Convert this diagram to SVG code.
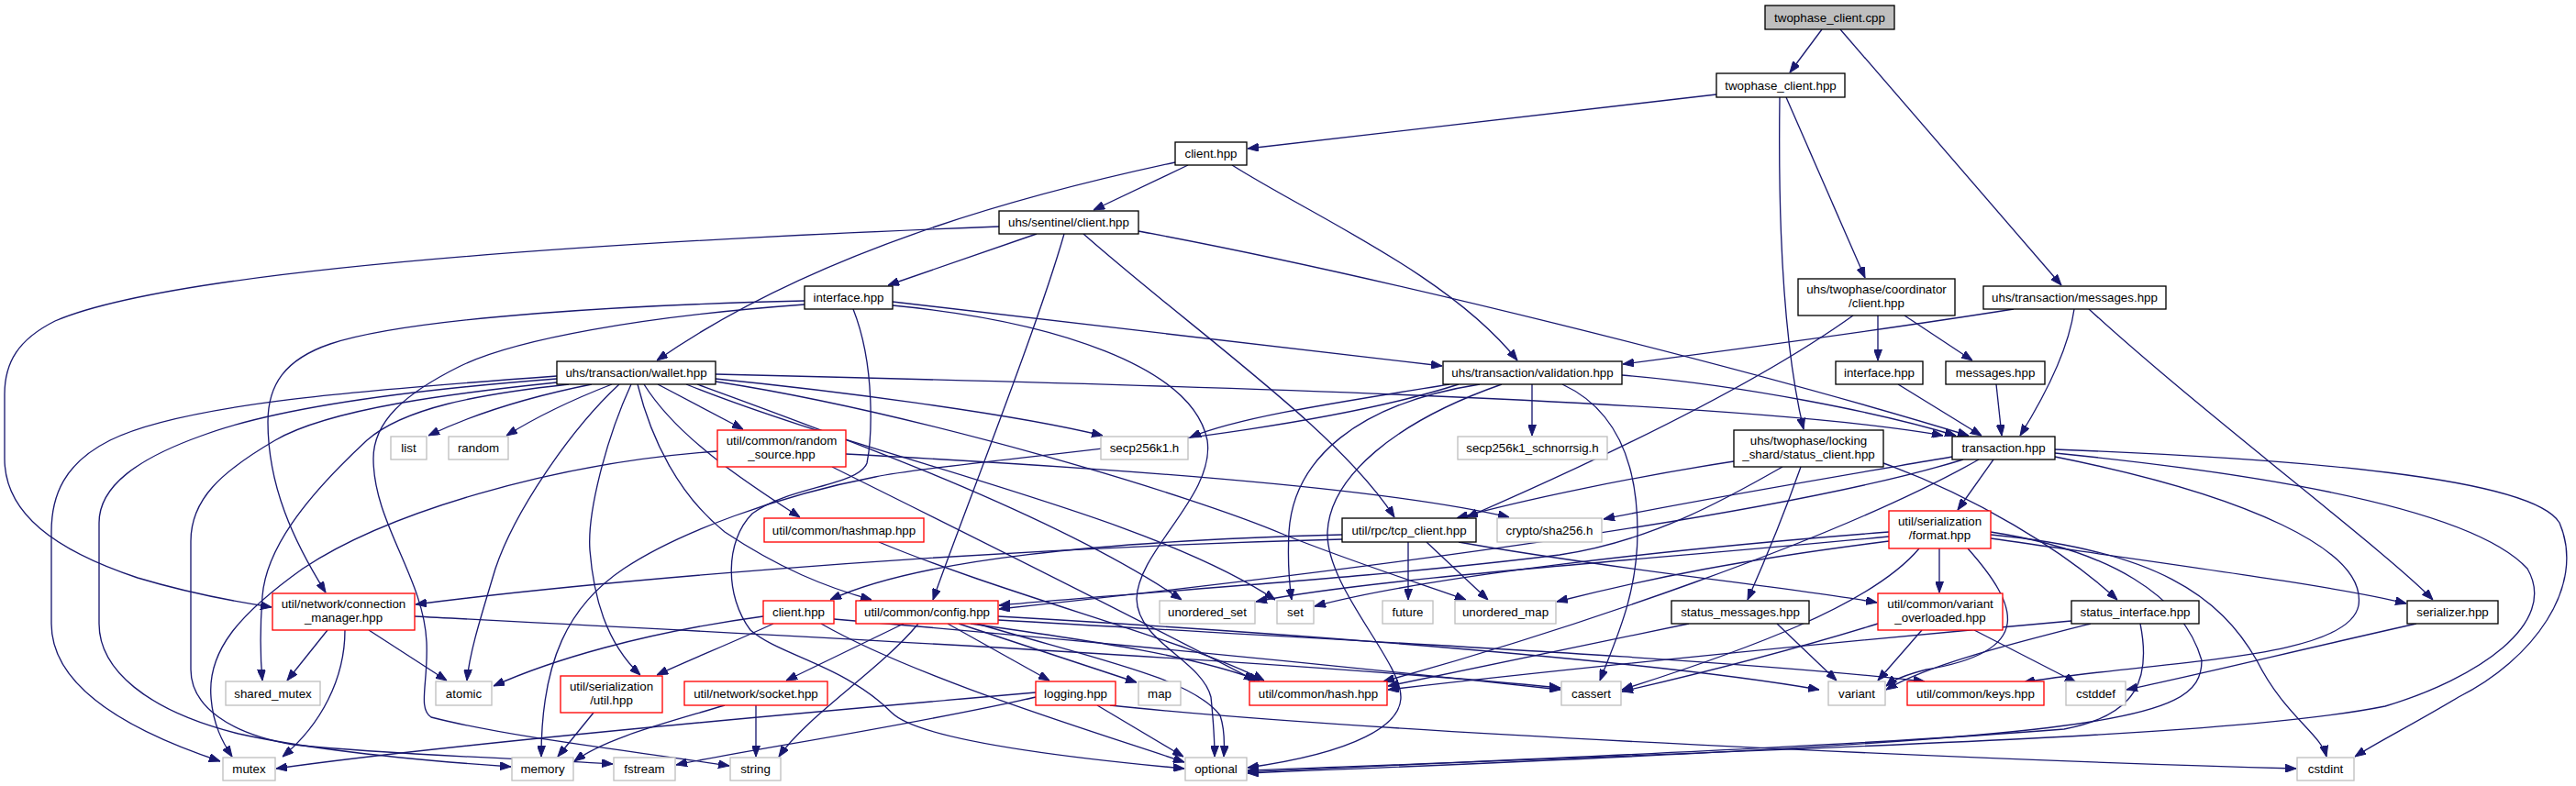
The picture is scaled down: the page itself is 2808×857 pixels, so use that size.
<svg xmlns="http://www.w3.org/2000/svg" width="2808" height="857" viewBox="0 0 2808 857">
<style>
.n rect{fill:#fff;stroke-width:1.33}
.b rect{stroke:#000}
.r rect{stroke:#ff0000}
.g rect{stroke:#bfbfbf}
.root rect{fill:#bfbfbf;stroke:#000}
text{font-family:"Liberation Sans",Arial,sans-serif;font-size:13.33px;text-anchor:middle;fill:#000}
#edges path{fill:none;stroke:#191970;stroke-width:1.33;marker-end:url(#ah)}
</style>
<defs>
<marker id="ah" viewBox="0 0 12 9" refX="12" refY="4.5" markerWidth="12" markerHeight="9" markerUnits="userSpaceOnUse" orient="auto"><path d="M0,0 L12,4.5 L0,9 z" fill="#191970" stroke="#191970" stroke-width="1"/></marker>
</defs>
<rect width="2808" height="857" fill="#fff"/>
<g id="edges">
<path d="M1986,32 L1951,79"/>
<path d="M2006,32 L2247,311"/>
<path d="M1871,103 L1360,162"/>
<path d="M1947,106 L2033,303"/>
<path d="M1940,106 C1938,250 1945,380 1966,468"/>
<path d="M1295,180 L1192,229"/>
<path d="M1281,177 C1150,205 900,265 716,393"/>
<path d="M1343,180 C1430,235 1580,300 1654,393"/>
<path d="M1130,255 L968,311"/>
<path d="M1089,247 C700,262 200,290 60,350 C20,370 5,395 5,430 L5,500 C5,560 60,600 150,630 C200,645 250,655 296,662"/>
<path d="M1160,255 C1130,360 1050,560 1017,654"/>
<path d="M1181,255 C1300,360 1460,470 1520,564"/>
<path d="M1241,252 C1500,300 1900,400 2146,475"/>
<path d="M877,328 C700,332 450,345 360,375 C310,392 292,420 292,460 C292,530 320,590 355,646"/>
<path d="M973,329 L1572,399"/>
<path d="M877,332 C700,345 560,370 500,400 C440,430 407,460 407,500 C407,570 462,630 465,700 C467,745 455,772 470,782 C560,805 700,820 795,835"/>
<path d="M930,337 C955,400 950,480 945,505 C935,530 860,530 820,560 C790,590 790,650 818,687 C850,715 920,725 972,777 C1000,805 1150,825 1291,838"/>
<path d="M973,333 C1150,350 1300,400 1316,480 C1325,540 1240,600 1239,653 C1240,700 1310,720 1320,760 C1323,790 1324,810 1324,825"/>
<path d="M607,410 C400,425 200,440 120,480 C70,505 56,540 56,580 L56,680 C56,740 120,790 240,830"/>
<path d="M607,413 C450,425 300,445 220,475 C150,500 108,530 108,570 L108,680 C108,730 160,775 260,800 C350,820 470,830 557,836"/>
<path d="M607,417 C500,428 360,445 300,480 C240,515 208,545 208,590 L208,730 C208,770 250,800 320,812 C450,825 600,828 668,833"/>
<path d="M620,419 C520,430 440,445 400,480 C330,545 290,600 286,650 C283,690 284,720 286,742"/>
<path d="M645,419 Q540,440 467,475"/>
<path d="M667,419 Q600,445 552,475"/>
<path d="M675,419 C620,470 560,560 540,620 C525,670 512,710 509,742"/>
<path d="M688,419 C660,480 640,560 643,600 C647,650 660,700 698,736"/>
<path d="M695,419 C710,480 740,540 790,580 C850,620 900,640 950,654"/>
<path d="M702,419 C740,480 820,530 872,564"/>
<path d="M717,419 L810,468"/>
<path d="M780,413 C900,425 1100,450 1202,475"/>
<path d="M780,408 C1200,418 1900,435 2118,475"/>
<path d="M760,419 C900,470 1150,560 1288,654"/>
<path d="M748,419 C950,500 1250,560 1390,654"/>
<path d="M780,416 C1000,450 1300,540 1400,583 C1480,615 1560,640 1598,654"/>
<path d="M782,492 C600,505 420,560 330,620 C260,670 226,710 230,760 C232,790 243,810 253,825"/>
<path d="M922,495 C1200,510 1500,530 1645,564"/>
<path d="M907,509 C1050,580 1250,680 1368,742"/>
<path d="M958,591 C1100,650 1300,700 1378,742"/>
<path d="M1463,583 C1200,590 1000,610 905,654"/>
<path d="M1463,588 C1000,600 600,640 453,659"/>
<path d="M1535,591 L1535,654"/>
<path d="M1555,591 L1622,654"/>
<path d="M1590,591 C1750,620 1950,640 2046,657"/>
<path d="M832,672 C700,690 600,720 538,748"/>
<path d="M843,680 C800,700 750,720 716,736"/>
<path d="M895,680 C1000,740 1200,800 1291,831"/>
<path d="M909,675 C1200,700 1500,730 1701,752"/>
<path d="M985,680 L857,742"/>
<path d="M1001,680 C960,730 880,780 849,825"/>
<path d="M1033,680 L1144,742"/>
<path d="M1045,680 L1239,744"/>
<path d="M1058,680 C1200,700 1300,715 1373,742"/>
<path d="M1065,680 C1200,720 1300,740 1330,780 C1335,795 1335,810 1334,825"/>
<path d="M1088,676 C1500,700 1900,720 2098,743"/>
<path d="M1088,672 C1400,690 1800,720 1983,752"/>
<path d="M357,687 L313,742"/>
<path d="M402,687 L487,742"/>
<path d="M376,687 C376,740 350,790 308,825"/>
<path d="M452,672 C800,690 1400,720 1701,750"/>
<path d="M824,769 L824,825"/>
<path d="M790,769 C720,790 660,805 626,830"/>
<path d="M1129,755 C900,775 500,810 301,838"/>
<path d="M1129,760 C1000,790 800,820 737,834"/>
<path d="M1196,769 L1290,825"/>
<path d="M1210,769 C1500,800 2200,830 2503,838"/>
<path d="M647,777 L608,825"/>
<path d="M1580,419 C1450,440 1350,455 1297,477"/>
<path d="M1670,419 L1670,475"/>
<path d="M1768,409 C1900,420 2050,450 2132,475"/>
<path d="M1703,419 C1770,450 1785,520 1785,580 C1785,650 1760,700 1744,742"/>
<path d="M1613,419 C1480,440 1410,500 1405,580 C1403,620 1406,640 1408,654"/>
<path d="M1637,419 C1520,460 1450,520 1447,580 C1445,640 1527,720 1527,760 C1527,790 1480,820 1360,837"/>
<path d="M1590,419 C1400,480 1050,500 954,520 C850,540 740,580 680,620 C620,660 590,720 590,825"/>
<path d="M2069,419 L2160,475"/>
<path d="M2176,419 L2182,475"/>
<path d="M2261,337 C2255,380 2230,430 2202,475"/>
<path d="M2195,337 C2050,360 1900,380 1769,397"/>
<path d="M2277,337 C2400,450 2600,600 2652,654"/>
<path d="M2020,344 C1900,430 1700,520 1599,564"/>
<path d="M2047,344 L2047,393"/>
<path d="M2076,344 L2150,393"/>
<path d="M1890,503 C1780,520 1660,545 1588,565"/>
<path d="M1963,509 C1945,560 1920,620 1905,654"/>
<path d="M2053,505 C2150,540 2250,600 2308,654"/>
<path d="M1943,509 C1880,545 1800,590 1700,605 C1500,630 1250,645 1089,660"/>
<path d="M2128,498 C2000,520 1850,545 1748,566"/>
<path d="M2140,501 C1950,560 1500,620 1089,664"/>
<path d="M2157,501 C2000,590 1700,690 1508,743"/>
<path d="M2173,501 L2134,556"/>
<path d="M2240,490 C2500,500 2760,520 2790,570 C2820,640 2760,720 2680,760 C2630,790 2590,810 2567,825"/>
<path d="M2240,494 C2500,520 2700,560 2755,620 C2790,680 2700,740 2600,770 C2450,800 2100,812 1360,840"/>
<path d="M2240,498 C2450,540 2580,600 2571,660 C2560,720 2350,720 2206,744"/>
<path d="M2059,580 C1800,600 1550,630 1433,661"/>
<path d="M2059,585 C1800,610 1500,630 1369,656"/>
<path d="M2059,590 C1900,610 1800,630 1697,656"/>
<path d="M2114,598 L2114,646"/>
<path d="M2092,598 C2040,660 1900,710 1768,752"/>
<path d="M2145,598 C2200,660 2220,710 2100,730 C2080,735 2065,740 2056,748"/>
<path d="M2170,587 C2400,620 2550,640 2623,658"/>
<path d="M2170,583 C2350,600 2420,650 2460,720 C2490,780 2530,800 2536,825"/>
<path d="M2170,580 C2300,600 2380,650 2400,720 C2400,790 2300,805 1360,843"/>
<path d="M2047,680 C1950,710 1850,735 1768,754"/>
<path d="M2095,687 L2047,742"/>
<path d="M2152,687 L2263,744"/>
<path d="M1841,680 C1700,710 1600,730 1513,748"/>
<path d="M1937,680 L2002,742"/>
<path d="M2258,677 C2000,700 1700,730 1513,752"/>
<path d="M2279,680 C2200,700 2100,725 2056,752"/>
<path d="M2333,680 C2345,740 2330,780 2250,795 C2000,815 1600,830 1360,842"/>
<path d="M2634,680 C2500,710 2400,735 2318,752"/>
</g>
<g id="node-cpp" class="n root"><rect x="1924" y="6" width="141" height="26"/><text x="1994.5" y="23.5">twophase_client.cpp</text></g>
<g id="node-tphpp" class="n b"><rect x="1871" y="80" width="140" height="26"/><text x="1941" y="97.5">twophase_client.hpp</text></g>
<g id="node-client" class="n b"><rect x="1281" y="155" width="78" height="25"/><text x="1320" y="172">client.hpp</text></g>
<g id="node-sentinel" class="n b"><rect x="1089" y="230" width="152" height="25"/><text x="1165" y="247">uhs/sentinel/client.hpp</text></g>
<g id="node-iface1" class="n b"><rect x="877" y="312" width="96" height="25"/><text x="925" y="329">interface.hpp</text></g>
<g id="node-coord" class="n b"><rect x="1960" y="304" width="171" height="40"/><text x="2045.5" y="320">uhs/twophase/coordinator</text><text x="2045.5" y="335">/client.hpp</text></g>
<g id="node-txmsg" class="n b"><rect x="2162" y="312" width="199" height="25"/><text x="2261.5" y="329">uhs/transaction/messages.hpp</text></g>
<g id="node-wallet" class="n b"><rect x="607" y="394" width="173" height="25"/><text x="693.5" y="411">uhs/transaction/wallet.hpp</text></g>
<g id="node-valid" class="n b"><rect x="1573" y="394" width="195" height="25"/><text x="1670.5" y="411">uhs/transaction/validation.hpp</text></g>
<g id="node-iface2" class="n b"><rect x="2001" y="394" width="95" height="25"/><text x="2048.5" y="411">interface.hpp</text></g>
<g id="node-msgs" class="n b"><rect x="2121" y="394" width="108" height="25"/><text x="2175" y="411">messages.hpp</text></g>
<g id="node-list" class="n g"><rect x="426" y="476" width="39" height="25"/><text x="445.5" y="493">list</text></g>
<g id="node-random" class="n g"><rect x="489" y="476" width="65" height="25"/><text x="521.5" y="493">random</text></g>
<g id="node-randsrc" class="n r"><rect x="782" y="469" width="140" height="40"/><text x="852" y="484.5">util/common/random</text><text x="852" y="499.5">_source.hpp</text></g>
<g id="node-secp" class="n g"><rect x="1200" y="476" width="95" height="25"/><text x="1247.5" y="493">secp256k1.h</text></g>
<g id="node-schnorr" class="n g"><rect x="1589" y="476" width="163" height="25"/><text x="1670.5" y="493">secp256k1_schnorrsig.h</text></g>
<g id="node-stcl" class="n b"><rect x="1890" y="469" width="163" height="40"/><text x="1971.5" y="484.5">uhs/twophase/locking</text><text x="1971.5" y="499.5">_shard/status_client.hpp</text></g>
<g id="node-tx" class="n b"><rect x="2128" y="476" width="112" height="25"/><text x="2184" y="493">transaction.hpp</text></g>
<g id="node-hashmap" class="n r"><rect x="833" y="565" width="174" height="26"/><text x="920" y="582.5">util/common/hashmap.hpp</text></g>
<g id="node-tcp" class="n b"><rect x="1463" y="565" width="146" height="26"/><text x="1536" y="582.5">util/rpc/tcp_client.hpp</text></g>
<g id="node-sha" class="n g"><rect x="1632" y="565" width="114" height="26"/><text x="1689" y="582.5">crypto/sha256.h</text></g>
<g id="node-format" class="n r"><rect x="2059" y="557" width="111" height="41"/><text x="2114.5" y="573">util/serialization</text><text x="2114.5" y="588">/format.hpp</text></g>
<g id="node-connmgr" class="n r"><rect x="297" y="647" width="155" height="40"/><text x="374.5" y="662.5">util/network/connection</text><text x="374.5" y="677.5">_manager.hpp</text></g>
<g id="node-client2" class="n r"><rect x="832" y="655" width="77" height="25"/><text x="870.5" y="672">client.hpp</text></g>
<g id="node-config" class="n r"><rect x="933" y="655" width="155" height="25"/><text x="1010.5" y="672">util/common/config.hpp</text></g>
<g id="node-uset" class="n g"><rect x="1264" y="655" width="104" height="25"/><text x="1316" y="672">unordered_set</text></g>
<g id="node-set" class="n g"><rect x="1392" y="655" width="40" height="25"/><text x="1412" y="672">set</text></g>
<g id="node-future" class="n g"><rect x="1507" y="655" width="55" height="25"/><text x="1534.5" y="672">future</text></g>
<g id="node-umap" class="n g"><rect x="1586" y="655" width="110" height="25"/><text x="1641" y="672">unordered_map</text></g>
<g id="node-statmsg" class="n b"><rect x="1822" y="655" width="150" height="25"/><text x="1897" y="672">status_messages.hpp</text></g>
<g id="node-varov" class="n r"><rect x="2047" y="647" width="136" height="40"/><text x="2115" y="662.5">util/common/variant</text><text x="2115" y="677.5">_overloaded.hpp</text></g>
<g id="node-statif" class="n b"><rect x="2258" y="655" width="139" height="25"/><text x="2327.5" y="672">status_interface.hpp</text></g>
<g id="node-serializer" class="n b"><rect x="2624" y="655" width="99" height="25"/><text x="2673.5" y="672">serializer.hpp</text></g>
<g id="node-shmutex" class="n g"><rect x="246" y="743" width="103" height="26"/><text x="297.5" y="760.5">shared_mutex</text></g>
<g id="node-atomic" class="n g"><rect x="475" y="743" width="61" height="26"/><text x="505.5" y="760.5">atomic</text></g>
<g id="node-serutil" class="n r"><rect x="611" y="737" width="111" height="40"/><text x="666.5" y="752.5">util/serialization</text><text x="666.5" y="767.5">/util.hpp</text></g>
<g id="node-socket" class="n r"><rect x="746" y="743" width="156" height="26"/><text x="824" y="760.5">util/network/socket.hpp</text></g>
<g id="node-logging" class="n r"><rect x="1129" y="743" width="87" height="26"/><text x="1172.5" y="760.5">logging.hpp</text></g>
<g id="node-map" class="n g"><rect x="1241" y="743" width="46" height="26"/><text x="1264" y="760.5">map</text></g>
<g id="node-hash" class="n r"><rect x="1362" y="743" width="150" height="26"/><text x="1437" y="760.5">util/common/hash.hpp</text></g>
<g id="node-cassert" class="n g"><rect x="1702" y="743" width="65" height="26"/><text x="1734.5" y="760.5">cassert</text></g>
<g id="node-variant" class="n g"><rect x="1993" y="743" width="62" height="26"/><text x="2024" y="760.5">variant</text></g>
<g id="node-keys" class="n r"><rect x="2079" y="743" width="149" height="26"/><text x="2153.5" y="760.5">util/common/keys.hpp</text></g>
<g id="node-cstddef" class="n g"><rect x="2252" y="743" width="65" height="26"/><text x="2284.5" y="760.5">cstddef</text></g>
<g id="node-mutex" class="n g"><rect x="243" y="826" width="57" height="25"/><text x="271.5" y="843">mutex</text></g>
<g id="node-memory" class="n g"><rect x="558" y="826" width="67" height="25"/><text x="591.5" y="843">memory</text></g>
<g id="node-fstream" class="n g"><rect x="669" y="826" width="67" height="25"/><text x="702.5" y="843">fstream</text></g>
<g id="node-string" class="n g"><rect x="796" y="826" width="55" height="25"/><text x="823.5" y="843">string</text></g>
<g id="node-optional" class="n g"><rect x="1292" y="826" width="67" height="25"/><text x="1325.5" y="843">optional</text></g>
<g id="node-cstdint" class="n g"><rect x="2504" y="826" width="62" height="25"/><text x="2535" y="843">cstdint</text></g>
</svg>
